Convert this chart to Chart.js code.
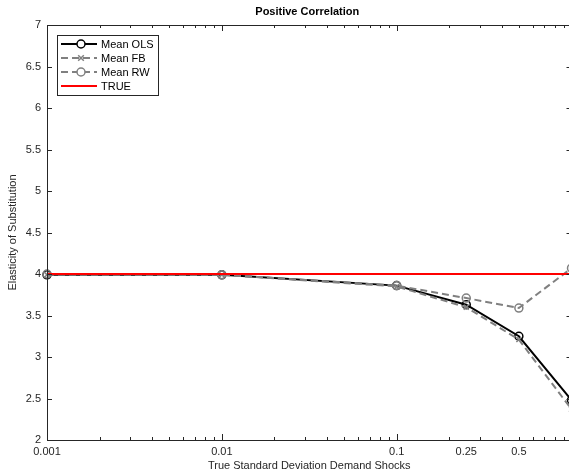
<!DOCTYPE html>
<html lang="en">
<head>
  <meta charset="UTF-8">
  <title>Positive Correlation</title>
  <script src="https://cdn.jsdelivr.net/npm/chart.js"></script>
  <style>
    body { margin: 0; background: #fff; overflow: hidden; width: 569px; height: 475px; }
    #wrap { width: 580px; height: 475px; }
  </style>
</head>
<body>
  <div id="wrap"><canvas id="c" width="580" height="475"></canvas></div>

  <script>
    // data
    const sdShocks = [0.001, 0.01, 0.1, 0.25, 0.5, 1];
    const meanOLS = [3.99, 3.99, 3.86, 3.63, 3.25, 2.48];
    const meanFB  = [3.99, 3.99, 3.85, 3.60, 3.21, 2.37];
    const meanRW  = [4.00, 3.99, 3.86, 3.71, 3.59, 4.07];
    const trueVal = [4, 4, 4, 4, 4, 4];
    const xTickVals = [0.001, 0.01, 0.1, 0.25, 0.5, 1];
    const xTickLabels = ['0.001', '0.01', '0.1', '0.25', '0.5', '1'];

    const axisCol = '#262626';
    const grey = '#808080';
    const font = 'Liberation Sans, Arial, sans-serif';

    const pts = ys => sdShocks.map((x, i) => ({ x: x, y: ys[i] }));

    // MATLAB-like box with inward ticks + legend inside the axes
    const matlabAxes = {
      id: 'matlabAxes',
      afterDraw(chart) {
        const ctx = chart.ctx, a = chart.chartArea;
        const xs = chart.scales.x, ys = chart.scales.y;
        ctx.save();
        ctx.strokeStyle = axisCol;
        ctx.lineWidth = 1;
        ctx.strokeRect(Math.round(a.left) + 0.5, Math.round(a.top) + 0.5, a.right - a.left, a.bottom - a.top);
        ctx.beginPath();
        // x ticks: majors + log minors
        const minors = [];
        for (let d = 0.001; d < 1; d *= 10) for (let k = 2; k <= 9; k++) minors.push(k * d);
        const tick = (v, len) => {
          const px = Math.round(xs.getPixelForValue(v)) + 0.5;
          ctx.moveTo(px, a.bottom); ctx.lineTo(px, a.bottom - len);
          ctx.moveTo(px, a.top); ctx.lineTo(px, a.top + len);
        };
        minors.forEach(v => tick(v, 3));
        [0.001, 0.01, 0.1, 1].forEach(v => tick(v, 6));
        for (let v = 2; v <= 7; v += 0.5) {
          const py = Math.round(ys.getPixelForValue(v)) + 0.5;
          ctx.moveTo(a.left, py); ctx.lineTo(a.left + 5, py);
          ctx.moveTo(a.right, py); ctx.lineTo(a.right - 5, py);
        }
        ctx.stroke();

        // title
        ctx.fillStyle = '#000';
        ctx.font = 'bold 11px ' + font;
        ctx.textAlign = 'center';
        ctx.textBaseline = 'middle';
        ctx.fillText('Positive Correlation', (a.left + a.right) / 2 - 2, 12);

        // legend
        const bx = 57, by = 35, bw = 101, bh = 60;
        ctx.fillStyle = '#fff';
        ctx.fillRect(bx, by, bw, bh);
        ctx.strokeStyle = axisCol;
        ctx.strokeRect(bx + 0.5, by + 0.5, bw, bh);
        const rows = [44, 58, 72, 86];
        chart.data.datasets.forEach((ds, i) => {
          const y = rows[i];
          ctx.save();
          ctx.strokeStyle = ds.borderColor;
          ctx.lineWidth = ds.borderWidth;
          ctx.setLineDash(ds.borderDash || []);
          ctx.beginPath(); ctx.moveTo(61, y); ctx.lineTo(97, y); ctx.stroke();
          ctx.setLineDash([]);
          if (ds.pointRadius) {
            ctx.lineWidth = ds.pointBorderWidth;
            ctx.strokeStyle = ds.pointBorderColor;
            ctx.beginPath();
            if (ds.pointStyle === 'crossRot') {
              const r = ds.pointRadius * 0.8;
              ctx.moveTo(81 - r, y - r); ctx.lineTo(81 + r, y + r);
              ctx.moveTo(81 - r, y + r); ctx.lineTo(81 + r, y - r);
            } else {
              ctx.fillStyle = '#fff';
              ctx.arc(81, y, ds.pointRadius, 0, Math.PI * 2);
              ctx.fill();
            }
            ctx.stroke();
          }
          ctx.fillStyle = '#000';
          ctx.font = '11px ' + font;
          ctx.textAlign = 'left';
          ctx.fillText(ds.label, 101, y + 0.5);
          ctx.restore();
        });
        ctx.restore();
      }
    };

    new Chart(document.getElementById('c'), {
      type: 'line',
      data: {
        datasets: [
          { label: 'Mean OLS', data: pts(meanOLS), borderColor: '#000', borderWidth: 2,
            pointStyle: 'circle', pointRadius: 4, pointBorderWidth: 1.5, pointBorderColor: '#000',
            pointBackgroundColor: 'rgba(0,0,0,0)', order: 3 },
          { label: 'Mean FB', data: pts(meanFB), borderColor: grey, borderWidth: 2, borderDash: [7, 4],
            pointStyle: 'crossRot', pointRadius: 3.5, pointBorderWidth: 1.5, pointBorderColor: grey, order: 2 },
          { label: 'Mean RW', data: pts(meanRW), borderColor: grey, borderWidth: 2, borderDash: [7, 4],
            pointStyle: 'circle', pointRadius: 4, pointBorderWidth: 1.5, pointBorderColor: grey,
            pointBackgroundColor: 'rgba(0,0,0,0)', order: 1 },
          { label: 'TRUE', data: pts(trueVal), borderColor: '#ff0000', borderWidth: 2,
            pointRadius: 0, order: 0 }
        ]
      },
      options: {
        responsive: false,
        animation: false,
        clip: false,
        layout: { padding: { left: 0, top: 25, right: 8.5, bottom: 0 } },
        plugins: { legend: { display: false }, tooltip: { enabled: false } },
        scales: {
          x: {
            type: 'logarithmic', min: 0.001, max: 1,
            afterBuildTicks: s => { s.ticks = xTickVals.map(v => ({ value: v })); },
            afterFit: s => { s.height = 35; },
            grid: { display: false, drawTicks: false },
            border: { display: false },
            ticks: {
              autoSkip: false, maxRotation: 0, padding: 5, color: axisCol,
              font: { family: font, size: 11 },
              callback: v => xTickLabels[xTickVals.indexOf(v)] ?? ''
            },
            title: { display: true, text: 'True Standard Deviation Demand Shocks', color: axisCol,
              font: { family: font, size: 11 }, padding: { top: 0, bottom: 2 } }
          },
          y: {
            min: 2, max: 7,
            afterFit: s => { s.width = 47; },
            grid: { display: false, drawTicks: false },
            border: { display: false },
            ticks: { stepSize: 0.5, padding: 6, color: axisCol, font: { family: font, size: 11 },
              callback: v => String(Math.round(v * 10) / 10) },
            title: { display: true, text: 'Elasticity of Substitution', color: axisCol,
              font: { family: font, size: 11 }, padding: { top: 6, bottom: 0 } }
          }
        }
      },
      plugins: [matlabAxes]
    });
  </script>
</body>
</html>
